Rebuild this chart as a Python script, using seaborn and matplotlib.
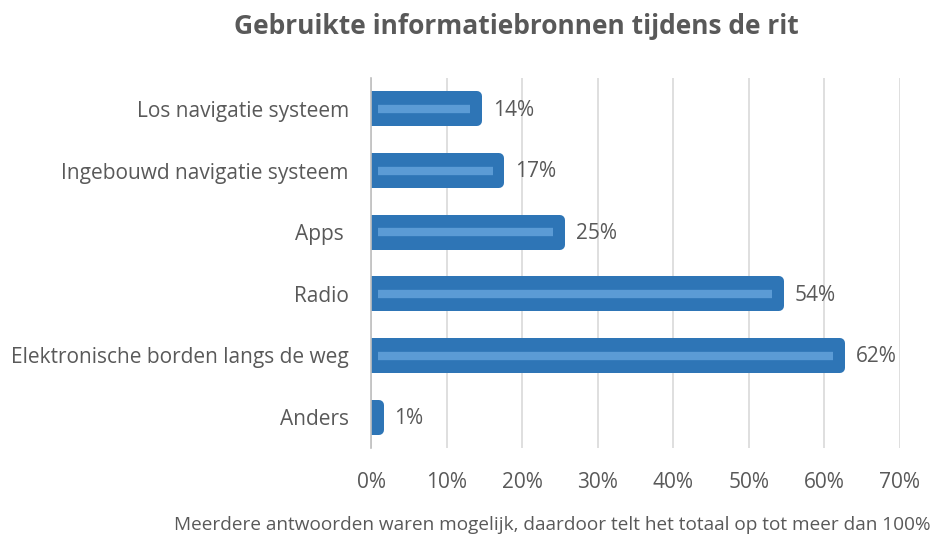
import matplotlib
matplotlib.use("Agg")
import matplotlib.pyplot as plt
import seaborn as sns
import pandas as pd
import numpy as np

categories = ["Los navigatie systeem", "Ingebouwd navigatie systeem", "Apps ",
              "Radio", "Elektronische borden langs de weg", "Anders"]
values = [14, 17, 25, 54, 62, 1]
value_labels = ["14%", "17%", "25%", "54%", "62%", "1%"]
xticks = [0, 10, 20, 30, 40, 50, 60, 70]
xtick_labels = ["0%", "10%", "20%", "30%", "40%", "50%", "60%", "70%"]
title = "Gebruikte informatiebronnen tijdens de rit"
footnote = "Meerdere antwoorden waren mogelijk, daardoor telt het totaal op tot meer dan 100%"

sns.set_theme(style="white")
plt.rcParams['font.family'] = ['Open Sans', 'DejaVu Sans']

df = pd.DataFrame({"cat": categories, "val": values})

fig = plt.figure(figsize=(9.32, 5.35), dpi=100)
ax = fig.add_axes([371/932, 1-448/535, (900-371)/932, (448-78)/535])

dark = "#2E75B6"
light = "#5B9BD5"
grey = "#595959"

sns.barplot(data=df, x="val", y="cat", orient="h", color=dark, width=0.41,
            saturation=1, ax=ax, zorder=3)
for p in ax.patches:
    p.set_edgecolor(dark)
    p.set_linewidth(7.2)
    p.set_joinstyle("round")
    p.set_zorder(3)

# inner highlight strips
for i, v in enumerate(values):
    if v > 3:
        ax.hlines(i, 0.9, v - 0.9, color=light, lw=6, zorder=4)

for i, (v, lab) in enumerate(zip(values, value_labels)):
    ax.text(v + 2.1, i + 0.02, lab, va="center", ha="left", fontsize=15, color=grey)

ax.set_xlim(0, 70)
ax.set_ylim(5.5, -0.5)
ax.set_xticks(xticks)
ax.set_xticklabels(xtick_labels, fontsize=15, color=grey)
ax.tick_params(axis="x", length=0, pad=17)
ax.tick_params(axis="y", length=0, pad=16, labelsize=15, labelcolor=grey)
ax.set_xlabel("")
ax.set_ylabel("")
ax.grid(axis="x", color="#D9D9D9", lw=1.2, zorder=0)
ax.set_axisbelow(True)
for s in ["top", "right", "bottom"]:
    ax.spines[s].set_visible(False)
ax.spines["left"].set_color("#BFBFBF")
ax.spines["left"].set_linewidth(1.2)
ax.spines["left"].set_zorder(5)

fig.text(516/932, 1-27/535, title, ha="center", va="center", fontsize=19,
         fontweight="bold", color=grey)
fig.text(0.999, 1-525/535, footnote, ha="right", va="center", fontsize=13.7,
         color=grey)

fig.savefig("out.png", dpi=100)
